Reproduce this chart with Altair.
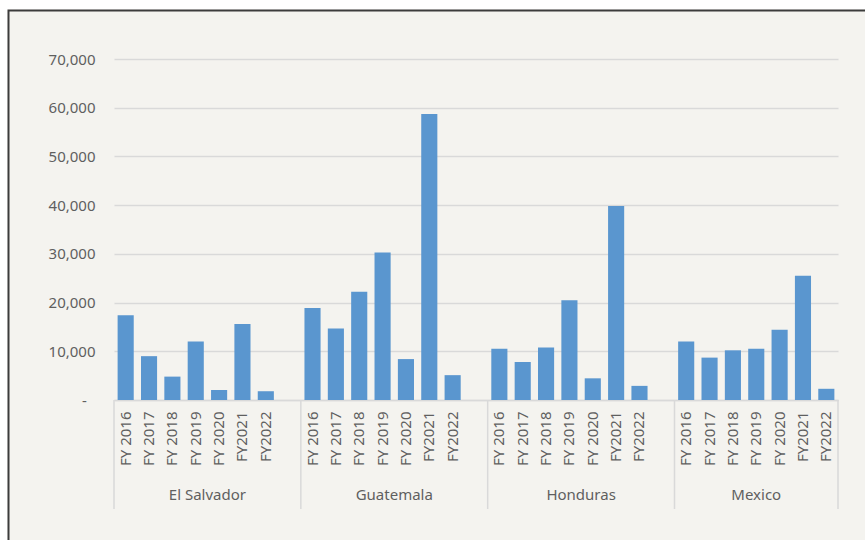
import altair as alt
import pandas as pd

countries = ["El Salvador", "Guatemala", "Honduras", "Mexico"]
years = ["FY 2016", "FY 2017", "FY 2018", "FY 2019", "FY 2020", "FY2021", "FY2022"]
el_salvador = [17400, 9000, 4800, 12000, 2050, 15600, 1800]
guatemala = [18900, 14700, 22200, 30300, 8400, 58700, 5100]
honduras = [10500, 7800, 10800, 20500, 4450, 39800, 2900]
mexico = [12000, 8700, 10200, 10500, 14400, 25500, 2300]
series = [el_salvador, guatemala, honduras, mexico]

FONT = "Noto Sans"
TXT = "#5f5f5f"
GRID = "#d9d9d9"
BAR = "#5a96cf"
BG = "#f4f3ef"

# slots: each country group followed by an empty slot (except the last)
slots = []
rows = []
for ci, (c, vals) in enumerate(zip(countries, series)):
    for y, v in zip(years, vals):
        key = f"{c}|{y}"
        slots.append(key)
        rows.append({"slot": key, "country": c, "year": y, "value": v})
    if ci < len(countries) - 1:
        slots.append(f"{c}|gap")
df = pd.DataFrame(rows)

W, H = 724, 341
L, T = 114, 59
xscale = alt.Scale(domain=slots, paddingInner=0, paddingOuter=0)

one = pd.DataFrame({"a": [0]})
white_left = alt.Chart(one).mark_rect(fill="white").encode(
    x=alt.value(-L), x2=alt.value(7.5 - L), y=alt.value(-T), y2=alt.value(600 - T))
white_top = alt.Chart(one).mark_rect(fill="white").encode(
    x=alt.value(-L), x2=alt.value(900 - L), y=alt.value(-T), y2=alt.value(9.5 - T))
frame = alt.Chart(one).mark_rect(
    fillOpacity=0, stroke="#3c3c3c", strokeWidth=2
).encode(
    x=alt.value(8.5 - L), y=alt.value(10.5 - T),
    x2=alt.value(900 - L), y2=alt.value(600 - T)
)

bars = alt.Chart(df).mark_bar(color=BAR, width=alt.RelativeBandSize(0.69)).encode(
    x=alt.X("slot:N", scale=xscale, sort=slots,
            axis=alt.Axis(
                title=None, labelAngle=-90, labelAlign="right", labelBaseline="middle",
                labelExpr="split(datum.value, '|')[1] == 'gap' ? '' : split(datum.value, '|')[1]",
                ticks=False, tickSize=0, labelPadding=11, domainColor=GRID, domainWidth=1.5,
                labelFont=FONT, labelFontSize=15, labelColor=TXT, grid=False,
                labelOverlap=False, labelBound=False, labelFlush=False)),
    y=alt.Y("value:Q", scale=alt.Scale(domain=[0, 70000], nice=False),
            axis=alt.Axis(
                title=None, values=list(range(0, 70001, 10000)),
                labelExpr="datum.value == 0 ? '-\u2007\u200b' : format(datum.value, ',')",
                ticks=False, tickSize=0, domain=False, labelPadding=19,
                gridColor=GRID, gridWidth=1.5,
                labelFont=FONT, labelFontSize=15, labelColor=TXT)),
)

# group separators
sep_start = pd.DataFrame({"slot": [f"{c}|{years[0]}" for c in countries]})
sep_end = pd.DataFrame({"slot": [f"{countries[-1]}|{years[-1]}"]})
seps1 = alt.Chart(sep_start).mark_rule(color=GRID, strokeWidth=1.5).encode(
    x=alt.X("slot:N", scale=xscale, bandPosition=0),
    y=alt.value(H), y2=alt.value(H + 109))
seps2 = alt.Chart(sep_end).mark_rule(color=GRID, strokeWidth=1.5).encode(
    x=alt.X("slot:N", scale=xscale, bandPosition=1),
    y=alt.value(H), y2=alt.value(H + 109))

lab1 = alt.Chart(pd.DataFrame({
    "slot": [f"{c}|{years[4]}" for c in countries[:3]],
    "country": countries[:3]})).mark_text(
    font=FONT, fontSize=15, color=TXT, baseline="middle", align="center").encode(
    x=alt.X("slot:N", scale=xscale, bandPosition=0),
    y=alt.value(H + 95), text="country:N")
lab2 = alt.Chart(pd.DataFrame({
    "slot": [f"{countries[3]}|{years[3]}"],
    "country": [countries[3]]})).mark_text(
    font=FONT, fontSize=15, color=TXT, baseline="middle", align="center").encode(
    x=alt.X("slot:N", scale=xscale, bandPosition=0.5),
    y=alt.value(H + 95), text="country:N")

chart = alt.layer(white_left, white_top, frame, bars, seps1, seps2, lab1, lab2).properties(
    width=W, height=H,
    autosize=alt.AutoSizeParams(type="none"),
    padding={"left": L, "top": T, "right": 865 - L - W, "bottom": 540 - T - H},
    background=BG,
).configure_view(stroke=None)

chart.save("out.html", embed_options={"renderer": "svg", "actions": False})
